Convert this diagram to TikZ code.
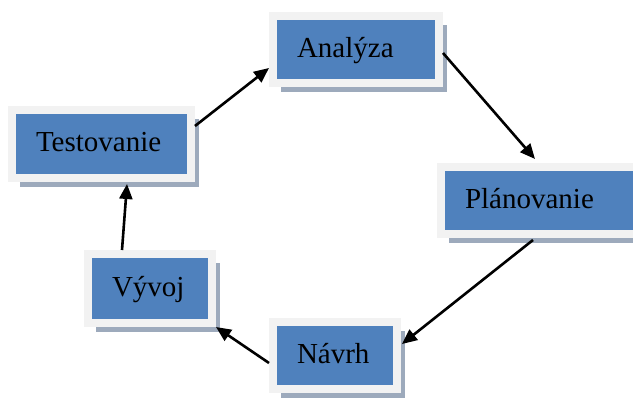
\documentclass[tikz,border=0pt]{standalone}
\usepackage{fontspec}
\setmainfont{Liberation Serif}
\usepackage{xcolor}
\usetikzlibrary{arrows.meta,shadows}
\definecolor{phaseblue}{HTML}{4F81BD}
\definecolor{phaseframe}{HTML}{F2F2F2}
\definecolor{phaseshade}{HTML}{9DAABC}

\begin{document}
\begin{tikzpicture}[x=1pt,y=-1pt,
  phase/.style={rectangle,fill=phaseblue,draw=phaseframe,line width=8pt,
    inner xsep=24pt,inner ysep=0pt,align=left,text height=19pt,text depth=4pt,
    font=\fontsize{29}{34}\selectfont,
    drop shadow={shadow xshift=8pt,shadow yshift=-9pt,fill=phaseshade,opacity=1}},
  arr/.style={-{Triangle[length=15pt,width=13pt]},line width=2.6pt}]
  \useasboundingbox (0,0) rectangle (633,397);
  \node[phase,text width=118pt,minimum height=67pt] (ana) at (356,49.5) {Analýza};
  \node[phase,text width=152pt,minimum height=67pt] (plan) at (541,200.5) {Plánovanie};
  \node[phase,text width=76pt,minimum height=67pt] (navrh) at (335,355.5) {Návrh};
  \node[phase,text width=76pt,minimum height=69pt] (vyvoj) at (150,288.5) {Vývoj};
  \node[phase,text width=131pt,minimum height=68pt] (test) at (101.5,144) {Testovanie};
  \draw[arr] ([yshift=18pt]test.east) -- ([yshift=-18.5pt]ana.west);
  \draw[arr] ([yshift=-3.5pt]ana.east) -- ([xshift=-6pt,yshift=4pt]plan.north);
  \draw[arr] ([xshift=-8pt,yshift=-2pt]plan.south) -- ([xshift=1pt,yshift=11.5pt]navrh.east);
  \draw[arr] ([yshift=-7.5pt]navrh.west) -- (vyvoj.south east);
  \draw[arr] ([xshift=-28pt]vyvoj.north) -- ([xshift=25.5pt,yshift=-2pt]test.south);
\end{tikzpicture}
\end{document}
